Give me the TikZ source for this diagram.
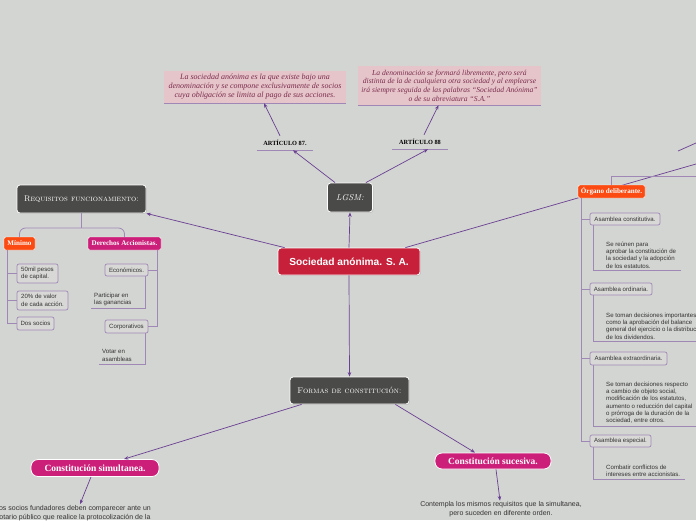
\documentclass[tikz,border=0pt]{standalone}
\usepackage{fontspec}
\setsansfont{Liberation Sans}
\newfontfamily\serifface{Liberation Serif}
\usetikzlibrary{arrows.meta,positioning,calc,shadows}
\definecolor{paper}{HTML}{D3D5D2}
\definecolor{slate}{HTML}{4A4A48}
\definecolor{brick}{HTML}{C6203A}
\definecolor{berry}{HTML}{CC1F7A}
\definecolor{flame}{HTML}{FB4A12}
\definecolor{blush}{HTML}{E6C5CA}
\definecolor{maroon}{HTML}{7A2D4E}
\definecolor{plum}{HTML}{6A4092}
\definecolor{lilac}{HTML}{A088B6}
\definecolor{inkgray}{HTML}{333333}
\definecolor{chip}{HTML}{D8D9D6}

\begin{document}
\begin{tikzpicture}[x=1pt,y=-1pt,>={Stealth[length=4.5pt,width=3.5pt]},
  link/.style={plum,line width=.7pt},
  tree/.style={lilac,line width=.8pt},
  darkbox/.style={draw=white,line width=.8pt,fill=slate,rounded corners=3pt,text=white,
    drop shadow={opacity=.35,shadow xshift=.8pt,shadow yshift=-.8pt}},
  pinkbox/.style={fill=blush,align=center,text=maroon,inner sep=2pt,
    font=\serifface\itshape\fontsize{8}{9}\selectfont},
  artlabel/.style={minimum height=14pt,inner sep=1pt,font=\serifface\bfseries\fontsize{6.3}{7}\selectfont},
  taglabel/.style={rounded corners=1.5pt,text=white,inner sep=1pt,draw=white,line width=.4pt,
    font=\serifface\bfseries\fontsize{7.1}{8}\selectfont},
  pillbox/.style={fill=berry,draw=white,line width=.8pt,rounded corners=7pt,text=white,
    font=\serifface\bfseries\fontsize{9.5}{10}\selectfont},
  subbox/.style={fill=chip,draw=lilac,line width=.7pt,rounded corners=2pt,align=left,inner sep=1pt,
    text=inkgray,font=\sffamily\fontsize{6.1}{7.4}\selectfont},
  childtext/.style={align=left,inner xsep=0pt,inner ysep=2.5pt,text=inkgray,
    font=\sffamily\fontsize{6.1}{7.3}\selectfont},
  bodytext/.style={align=center,text=inkgray,inner sep=1pt,font=\sffamily\fontsize{7}{8.8}\selectfont}]
\fill[paper] (0,0) rectangle (696,520);
\clip (0,0) rectangle (696,520);

% central topic and branches
\node[darkbox,fill=brick,minimum width=142pt,minimum height=27pt,font=\sffamily\bfseries\fontsize{10.2}{11}\selectfont] (sa) at (349,261.5) {Sociedad anónima. S. A.};
\coordinate (farnode) at (696,164);
\coordinate (farleft) at (678,151);
\coordinate (farright) at (696,143);
\draw[link] ([xshift=-15pt]sa.north east) -- (farnode);
\draw[link] (farleft) -- (farright);

\node[darkbox,minimum width=45pt,minimum height=29pt,font=\fontsize{8.5}{9}\selectfont\itshape] (lgsm) at (350,197.5) {LGSM:};
\node[artlabel,minimum width=56pt] (art87) at (285,143) {ARTÍCULO 87.};
\node[artlabel,minimum width=55pt] (art88) at (420,142) {ARTÍCULO 88};
\draw[lilac,line width=.8pt] (art87.south west) -- (art87.south east);
\draw[lilac,line width=.8pt] (art88.south west) -- (art88.south east);

\node[pinkbox,minimum width=182pt,minimum height=32pt] (def) at (255,87) {La sociedad anónima es la que existe bajo una\\denominación y se compone exclusivamente de socios\\cuya obligación se limita al pago de sus acciones.};
\node[pinkbox,minimum width=183pt,minimum height=39pt,font=\serifface\itshape\fontsize{7.6}{8.7}\selectfont] (denom) at (449.5,85.5) {La denominación se formará libremente, pero será\\distinta de la de cualquiera otra sociedad y al emplearse\\irá siempre seguida de las palabras “Sociedad Anónima”\\o de su abreviatura “S.A.”};
\draw[lilac,line width=.9pt] (def.south west) -- (def.south east);
\draw[lilac,line width=.9pt] (denom.south west) -- (denom.south east);

\draw[link,->] (sa.north) -- (lgsm.south);
\draw[link,->] ([xshift=8pt]lgsm.north west) -- ([xshift=8pt]art87.south);
\draw[link,->] ([xshift=-7pt]lgsm.north east) -- ([xshift=8pt]art88.south);
\draw[link,->] ([xshift=-5pt]art87.north) -- ([xshift=9pt]def.south);
\draw[link,->] ([xshift=4pt]art88.north) -- ([xshift=-11pt]denom.south);

% requisitos
\node[darkbox,minimum width=129pt,minimum height=28pt,font=\scshape\fontsize{8.2}{9}\selectfont] (req) at (81.5,199) {Requisitos funcionamiento:};
\draw[link,->] ([xshift=7pt]sa.north west) -- (req.south east);
\node[taglabel,fill=flame,minimum width=31pt,minimum height=13pt] (minimo) at (19.5,243.5) {Mínimo};
\node[taglabel,fill=berry,minimum width=73pt,minimum height=13pt] (derechos) at (124.5,243.5) {Derechos Accionistas.};
\draw[tree] (req.south) -- (req.south |- 0,228);
\draw[tree,rounded corners=6pt] (minimo.north) |- (req.south |- 0,228) -| (derechos.north);

\node[subbox,minimum width=41pt,minimum height=19pt] (capital) at (37.5,273.5) {50mil pesos\\de capital.};
\node[subbox,minimum width=51pt,minimum height=19pt] (valor) at (42.5,300.5) {20\% de valor\\de cada acción.};
\node[subbox,minimum width=37pt,minimum height=13pt] (socios) at (35.5,323.5) {Dos socios};
\foreach \n in {capital,valor,socios}
  \draw[tree] ([xshift=4pt]minimo.south west) |- (\n.west);

\node[subbox,minimum width=43pt,minimum height=12pt] (economicos) at (126.5,270) {Económicos.};
\node[subbox,minimum width=43pt,minimum height=13pt] (corporativos) at (126.5,326.5) {Corporativos};
\foreach \n in {economicos,corporativos}
  \draw[tree] ([xshift=-4pt]derechos.south east) |- (\n.east);
\node[childtext,anchor=north west] (ganancias) at (94,290) {Participar en\\las ganancias};
\node[childtext,anchor=north west] (votar) at (102,347) {Votar en\\asambleas};
\draw[tree] ([xshift=-3pt]economicos.south east) |- ([xshift=-3pt]ganancias.south west);
\draw[tree] ([xshift=-3pt]corporativos.south east) |- ([xshift=-3pt]votar.south west);

% organo deliberante
\coordinate (faredge) at (696,176);
\node[taglabel,fill=flame,minimum width=67pt,minimum height=13pt] (organo) at (611.5,191.5) {Órgano deliberante.};
\draw[tree] (organo.north) |- (faredge);
\node[subbox,minimum width=70pt,minimum height=12pt] (asconst) at (625,219) {Asamblea constitutiva.};
\node[subbox,minimum width=62pt,minimum height=12pt] (asord) at (621,289) {Asamblea ordinaria.};
\node[subbox,minimum width=77pt,minimum height=13pt] (asext) at (628.5,358.5) {Asamblea extraordinaria.};
\node[subbox,minimum width=61pt,minimum height=12pt] (asesp) at (620.5,441) {Asamblea especial.};
\foreach \n in {asconst,asord,asext,asesp}
  \draw[tree] ([xshift=4pt]organo.south west) |- (\n.west);

\node[childtext,anchor=north west] (reunen) at (606,239) {Se reúnen para\\aprobar la constitución de\\la sociedad y la adopción\\de los estatutos.};
\node[childtext,anchor=north west] (toman) at (606,310) {Se toman decisiones importantes\\como la aprobación del balance\\general del ejercicio o la distribución\\de los dividendos.};
\node[childtext,anchor=north west] (respecto) at (606,379) {Se toman decisiones respecto\\a cambio de objeto social,\\modificación de los estatutos,\\aumento o reducción del capital\\o prórroga de la duración de la\\sociedad, entre otros.};
\node[childtext,anchor=north west] (combatir) at (606,462) {Combatir conflictos de\\intereses entre accionistas.};
\draw[tree] ([xshift=4pt]asconst.south west) |- ([xshift=5pt]reunen.south east);
\draw[tree] ([xshift=4pt]asord.south west) |- ([xshift=5pt]toman.south east);
\draw[tree] ([xshift=4pt]asext.south west) |- ([xshift=5pt]respecto.south east);
\draw[tree] ([xshift=4pt]asesp.south west) |- ([xshift=5pt]combatir.south east);

% formas de constitucion
\node[darkbox,minimum width=119pt,minimum height=27pt,font=\scshape\fontsize{8.3}{9}\selectfont] (formas) at (349.5,390.5) {Formas de constitución:};
\draw[link,->] (sa.south) -- (formas.north);
\node[pillbox,minimum width=128pt,minimum height=17pt] (simul) at (95,468) {Constitución simultanea.};
\node[pillbox,minimum width=116pt,minimum height=16pt] (suces) at (493,461) {Constitución sucesiva.};
\draw[link,->] ([xshift=12pt]formas.south west) -- ([xshift=29pt]simul.north);
\draw[link,->] ([xshift=-14pt]formas.south east) -- ([xshift=-18pt]suces.north);
\node[bodytext] (notario) at (73,513) {Los socios fundadores deben comparecer ante un\\notario público que realice la protocolización de la};
\node[bodytext] (contempla) at (501,509.5) {Contempla los mismos requisitos que la simultanea,\\pero suceden en diferente orden.};
\draw[link,->] ([xshift=-4pt]simul.south) -- ([xshift=7pt]notario.north);
\draw[link,->] ([xshift=3pt]suces.south) -- ([xshift=-1pt]contempla.north);
\end{tikzpicture}
\end{document}
